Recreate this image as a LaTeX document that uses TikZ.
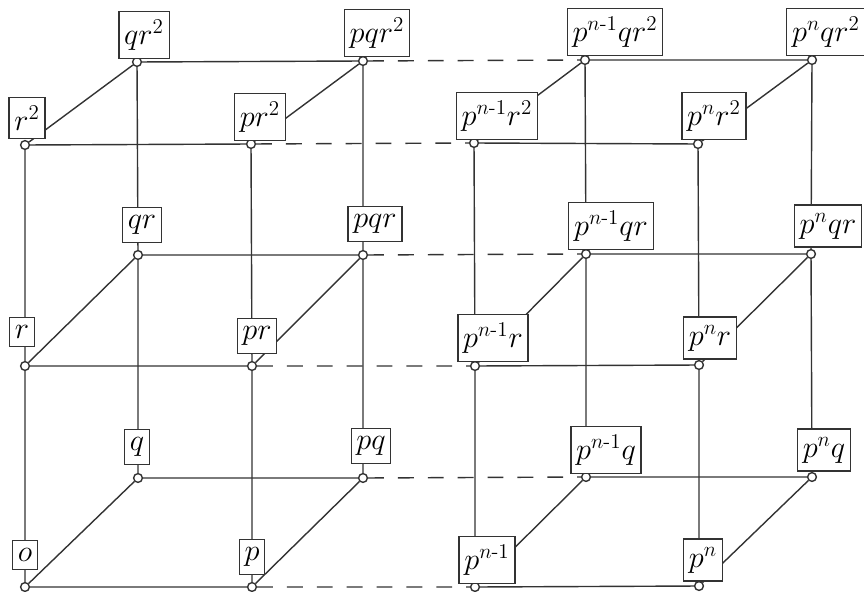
\documentclass[tikz,border=0pt]{standalone}
\usepackage{amsmath}
\begin{document}
\begin{tikzpicture}[x=0.02cm,y=-0.02cm,line width=0.8pt,draw=black!80,
  dot/.style={circle,draw=black!80,fill=white,inner sep=0pt,minimum size=5pt,line width=0.8pt},
  lab/.style={draw=black!80,fill=white,font=\LARGE,inner xsep=3pt,inner ysep=4.5pt,line width=0.7pt},
  gap/.style={dash pattern=on 9pt off 8pt}]
\useasboundingbox (0,0) rectangle (864,591);
% lattice points, front plane
\node[dot] (o) at (25,587) {}; \node[dot] (p) at (252,587) {}; \node[dot] (pm) at (475,587) {}; \node[dot] (pn) at (699,586) {};
\node[dot] (r) at (25,366) {}; \node[dot] (pr) at (252,366) {}; \node[dot] (pmr) at (475,366) {}; \node[dot] (pnr) at (699,365) {};
\node[dot] (r2) at (25,145) {}; \node[dot] (pr2) at (251,144) {}; \node[dot] (pmr2) at (474,143) {}; \node[dot] (pnr2) at (698,144) {};
% back plane
\node[dot] (q) at (138,478) {}; \node[dot] (pq) at (363,478) {}; \node[dot] (pmq) at (586,477) {}; \node[dot] (pnq) at (812,477) {};
\node[dot] (qr) at (138,255) {}; \node[dot] (pqr) at (363,255) {}; \node[dot] (pmqr) at (586,254) {}; \node[dot] (pnqr) at (811,254) {};
\node[dot] (qr2) at (137,62) {}; \node[dot] (pqr2) at (363,61) {}; \node[dot] (pmqr2) at (585,60) {}; \node[dot] (pnqr2) at (812,60) {};
% edges
\draw (o)--(p) (pm)--(pn) (r)--(pr) (pmr)--(pnr) (r2)--(pr2) (pmr2)--(pnr2);
\draw (q)--(pq) (pmq)--(pnq) (qr)--(pqr) (pmqr)--(pnqr) (qr2)--(pqr2) (pmqr2)--(pnqr2);
\draw[gap] (p)--(pm) (pr)--(pmr) (pr2)--(pmr2) (pq)--(pmq) (pqr)--(pmqr) (pqr2)--(pmqr2);
\draw (o)--(r)--(r2) (p)--(pr)--(pr2) (pm)--(pmr)--(pmr2) (pn)--(pnr)--(pnr2);
\draw (q)--(qr)--(qr2) (pq)--(pqr)--(pqr2) (pmq)--(pmqr)--(pmqr2) (pnq)--(pnqr)--(pnqr2);
\draw (o)--(q) (p)--(pq) (pm)--(pmq) (pn)--(pnq) (r)--(qr) (pr)--(pqr) (pmr)--(pmqr) (pnr)--(pnqr);
\draw (r2)--(qr2) (pr2)--(pqr2) (pmr2)--(pmqr2) (pnr2)--(pnqr2);
% labels
\node[lab] (Lo) at (25,555) {$o$}; \node[lab] (Lp) at (252,557) {$p$};
\node[lab] (Lpm) at (487,560) {$p^{n\text{-}1}$}; \node[lab] (Lpn) at (703,560) {$p^n$};
\node[lab] (Lq) at (137,447) {$q$}; \node[lab] (Lpq) at (371,446) {$pq$};
\node[lab] (Lpmq) at (606,450) {$p^{n\text{-}1}q$}; \node[lab] (Lpnq) at (824,450) {$p^nq$};
\node[lab] (Lr) at (22,332) {$r$}; \node[lab] (Lpr) at (257,336) {$pr$};
\node[lab] (Lpmr) at (493,338) {$p^{n\text{-}1}r$}; \node[lab] (Lpnr) at (710,338) {$p^nr$};
\node[lab] (Lqr) at (142,225) {$qr$}; \node[lab] (Lpqr) at (375,224) {$pqr$};
\node[lab] (Lpmqr) at (611,226) {$p^{n\text{-}1}qr$}; \node[lab] (Lpnqr) at (828,226) {$p^nqr$};
\node[lab] (Lr2) at (27,118) {$r^2$}; \node[lab] (Lpr2) at (260,117) {$pr^2$};
\node[lab] (Lpmr2) at (497,116) {$p^{n\text{-}1}r^2$}; \node[lab] (Lpnr2) at (714,116) {$p^nr^2$};
\node[lab] (Lqr2) at (144,35) {$qr^2$}; \node[lab] (Lpqr2) at (377,33) {$pqr^2$};
\node[lab] (Lpmqr2) at (615,32) {$p^{n\text{-}1}qr^2$}; \node[lab] (Lpnqr2) at (826,32) {$p^nqr^2$};
\end{tikzpicture}
\end{document}
